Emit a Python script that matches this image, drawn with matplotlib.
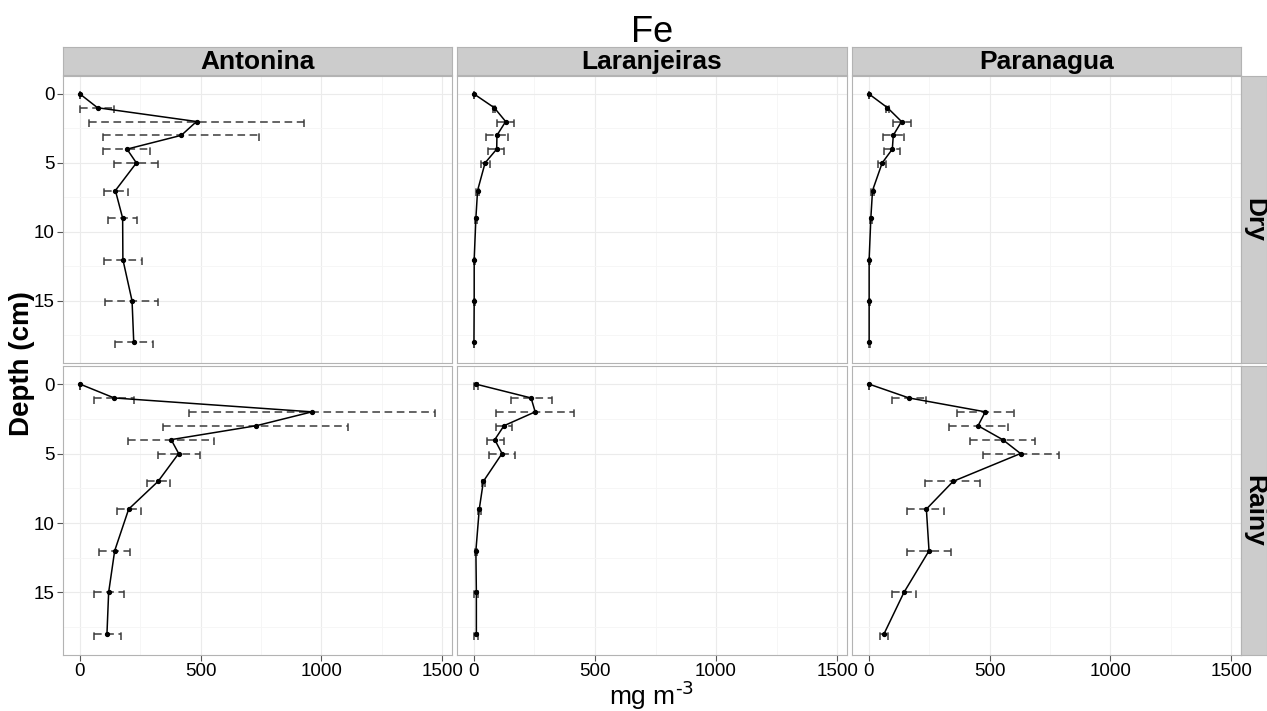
import matplotlib
matplotlib.use("Agg")
import matplotlib.pyplot as plt

plt.rcParams['font.family'] = ['Liberation Sans', 'DejaVu Sans']

depths = [0, 1, 2, 3, 4, 5, 7, 9, 12, 15, 18]
sites = ["Antonina", "Laranjeiras", "Paranagua"]
seasons = ["Dry", "Rainy"]

# mean, lower and upper ends of the error bars (mg m-3)
ant_dry = [0, 73, 483, 420, 195, 234, 147, 177, 178, 216, 223]
ant_dry_lo = [0, 0, 39, 95, 95, 140, 98, 116, 98, 102, 147]
ant_dry_hi = [0, 142, 928, 743, 292, 325, 198, 236, 257, 325, 301]

ant_rainy = [0, 142, 961, 730, 378, 409, 324, 202, 144, 119, 112]
ant_rainy_lo = [0, 59, 451, 346, 198, 324, 278, 154, 80, 58, 58]
ant_rainy_hi = [0, 225, 1470, 1112, 556, 498, 372, 253, 207, 181, 169]

lar_dry = [0, 84, 131, 95, 94, 46, 15, 8, 1, 1, 0]
lar_dry_lo = [0, 80, 94, 51, 59, 28, 8, 6, 0, 0, 0]
lar_dry_hi = [0, 89, 167, 141, 126, 65, 22, 12, 3, 3, 1]

lar_rainy = [7, 236, 253, 124, 86, 116, 39, 22, 8, 10, 10]
lar_rainy_lo = [0, 153, 91, 91, 52, 62, 32, 15, 5, 1, 1]
lar_rainy_hi = [15, 322, 413, 156, 123, 168, 47, 29, 11, 18, 18]

par_dry = [0, 77, 135, 101, 97, 55, 15, 8, 1, 1, 1]
par_dry_lo = [0, 72, 99, 57, 64, 37, 8, 5, 0, 0, 0]
par_dry_hi = [0, 84, 173, 146, 130, 72, 22, 11, 3, 3, 3]

par_rainy = [0, 166, 482, 452, 554, 628, 349, 238, 249, 145, 62]
par_rainy_lo = [0, 94, 366, 333, 418, 474, 231, 157, 157, 95, 44]
par_rainy_hi = [0, 238, 602, 575, 686, 786, 461, 313, 338, 193, 81]

panels = {
    ("Antonina", "Dry"): (ant_dry, ant_dry_lo, ant_dry_hi),
    ("Antonina", "Rainy"): (ant_rainy, ant_rainy_lo, ant_rainy_hi),
    ("Laranjeiras", "Dry"): (lar_dry, lar_dry_lo, lar_dry_hi),
    ("Laranjeiras", "Rainy"): (lar_rainy, lar_rainy_lo, lar_rainy_hi),
    ("Paranagua", "Dry"): (par_dry, par_dry_lo, par_dry_hi),
    ("Paranagua", "Rainy"): (par_rainy, par_rainy_lo, par_rainy_hi),
}

W, H = 1267, 711
fig = plt.figure(figsize=(W / 100, H / 100), dpi=100)


def box(x0, y0, x1, y1):
    # pixel box (top-left origin) -> figure fraction rect
    return [x0 / W, 1 - y1 / H, (x1 - x0) / W, (y1 - y0) / H]


col_x = [(63, 452), (457, 847), (852, 1241)]
row_y = [(76, 363), (366, 655)]
cap = 0.4
grey = "#b3b3b3"
dash = (0, (5, 3))

for ci, site in enumerate(sites):
    x0, x1 = col_x[ci]
    # top strip
    sax = fig.add_axes(box(x0, 47, x1, 75))
    sax.set_facecolor("#cccccc")
    sax.set_xticks([]); sax.set_yticks([])
    for s in sax.spines.values():
        s.set_color(grey)
    sax.text(0.5, 0.45, site, ha="center", va="center", fontsize=19,
             fontweight="bold", transform=sax.transAxes)
    for ri, season in enumerate(seasons):
        y0, y1 = row_y[ri]
        ax = fig.add_axes(box(x0, y0, x1, y1))
        mean, lo, hi = panels[(site, season)]
        ax.hlines(depths, lo, hi, colors="#3a3a3a", linestyles=dash, lw=1.1)
        for d, a, b in zip(depths, lo, hi):
            ax.vlines([a, b], d + cap, d - cap, colors="#3a3a3a",
                      linestyles=dash, lw=1.1)
        ax.plot(mean, depths, color="black", lw=1.1, marker="o", ms=2.8)
        ax.set_xlim(-70, 1541)
        ax.set_ylim(19.5, -1.3)
        ax.set_xticks([0, 500, 1000, 1500])
        ax.set_xticks([250, 750, 1250], minor=True)
        ax.set_yticks([0, 5, 10, 15])
        ax.set_yticks([2.5, 7.5, 12.5, 17.5], minor=True)
        ax.grid(which="major", color="#ebebeb", lw=0.8)
        ax.grid(which="minor", color="#f5f5f5", lw=0.6)
        ax.set_axisbelow(True)
        for s in ax.spines.values():
            s.set_color(grey)
        ax.tick_params(which="minor", length=0)
        ax.tick_params(which="major", length=4, color="#555555",
                       labelsize=13.5, pad=2)
        if ri == 0:
            ax.tick_params(axis="x", labelbottom=False, length=0)
        if ci > 0:
            ax.tick_params(axis="y", labelleft=False, length=0)
        if ci == 2:
            rax = fig.add_axes(box(1241, y0, 1267, y1))
            rax.set_facecolor("#cccccc")
            rax.set_xticks([]); rax.set_yticks([])
            for s in rax.spines.values():
                s.set_color(grey)
            rax.text(0.5, 0.5, season, ha="center", va="center", fontsize=19,
                     fontweight="bold", rotation=-90, transform=rax.transAxes)

fig.text(652 / W, 1 - 42 / H, "Fe", ha="center", va="baseline", fontsize=26)
fig.text(22 / W, 1 - 364 / H, "Depth (cm)", ha="center", va="center",
         fontsize=20, fontweight="bold", rotation=90)
fig.text(652 / W, 1 - 705 / H, r"mg m$^{\text{-3}}$", ha="center",
         va="baseline", fontsize=19)

fig.savefig("out.png", dpi=100)
